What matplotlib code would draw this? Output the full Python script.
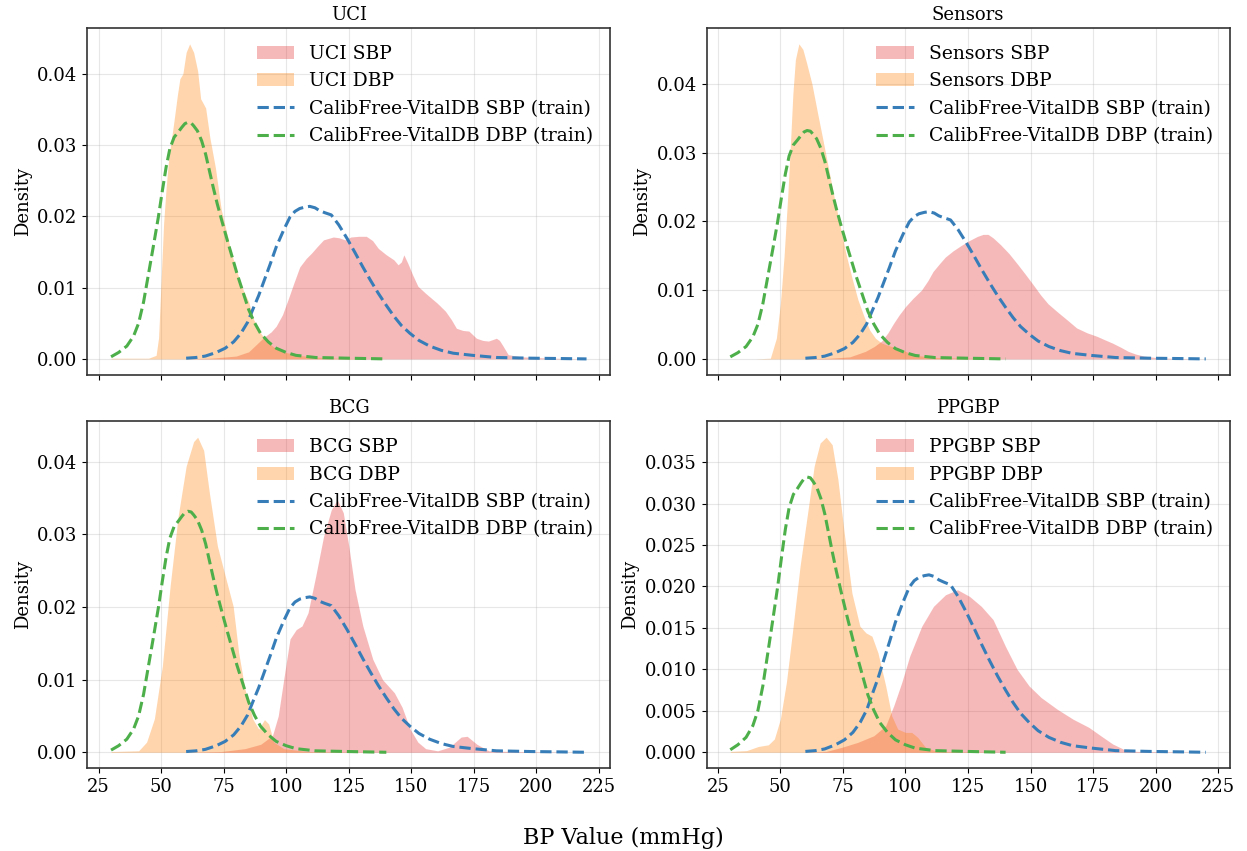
import matplotlib
matplotlib.use("Agg")
import matplotlib.pyplot as plt

plt.rcParams['font.family'] = ['DejaVu Serif']

# ---------------- shared reference curves (CalibFree-VitalDB train) -------------
vital_sbp_x = [60, 64, 67.7, 72, 75.6, 79, 81.9, 84.5, 86.6, 89, 91.3, 93.7, 96, 99, 101.5, 103.5, 105.4, 107.5, 109.4,
               111.5, 113.3, 115.5, 118, 121, 124.3, 127.5, 130.6, 133.7, 136.8, 140, 143, 146, 149.4, 153, 157.3,
               162, 166.7, 174.5, 184, 198, 210, 220]
vital_sbp_y = [0.0001, 0.0002, 0.0004, 0.0009, 0.0015, 0.0024, 0.0036, 0.0051, 0.0069, 0.0089, 0.0111, 0.0134, 0.0157,
               0.0181, 0.0199, 0.0207, 0.0211, 0.0213, 0.0214, 0.0212, 0.0208, 0.0205, 0.0202, 0.0188, 0.0169, 0.0149,
               0.0129, 0.0110, 0.0092, 0.0075, 0.0060, 0.0047, 0.0036, 0.0026, 0.0018, 0.0012, 0.0008, 0.0005, 0.0002,
               0.0001, 0.00005, 0.0]
vital_dbp_x = [30, 33, 36.3, 39, 41, 43, 45, 47, 48.9, 50.5, 52, 53.5, 55.2, 56.8, 58.3, 59.5, 60.7, 62, 63, 64.5, 66.2,
               67.8, 69.3, 70.8, 72.4, 74.4, 76.4, 78.4, 80.3, 82.7, 85, 87.3, 89.7, 92.8, 96, 100, 103.9, 111.7, 125, 140]
vital_dbp_y = [0.0003, 0.0009, 0.0018, 0.0032, 0.0050, 0.0080, 0.0120, 0.0160, 0.0199, 0.0236, 0.0269, 0.0295, 0.0311,
               0.0318, 0.0325, 0.0330, 0.0332, 0.0331, 0.0327, 0.0320, 0.0306, 0.0287, 0.0264, 0.0241, 0.0218, 0.0192,
               0.0167, 0.0143, 0.0120, 0.0094, 0.0069, 0.0051, 0.0036, 0.0024, 0.0015, 0.0009, 0.0005, 0.0002, 0.0001,
               0.0]

# ---------------- datasets ----------------
datasets = ["UCI", "Sensors", "BCG", "PPGBP"]

uci_sbp_x = [60, 70, 80, 85, 88, 91, 94, 96, 98.5, 100.7, 103, 105.4, 108, 110, 112.5, 114.9, 118.8, 121, 123.5, 125.8,
             129, 132, 134.5, 136.8, 140, 143, 144.7, 146, 147, 148.6, 150.5, 152.6, 155.7, 160.4, 163.6, 166, 168,
             170.5, 173, 176, 178.5, 180.8, 182.4, 184, 185.2, 186.3, 188.7, 193.4, 206, 220]
uci_sbp_y = [0.0, 0.0001, 0.0004, 0.0010, 0.0020, 0.0030, 0.0038, 0.0046, 0.0062, 0.0083, 0.0106, 0.0129, 0.0141,
             0.0148, 0.0158, 0.0167, 0.0171, 0.0170, 0.0167, 0.0171, 0.0172, 0.0172, 0.0166, 0.0155, 0.0146, 0.0139,
             0.0132, 0.0136, 0.0146, 0.0134, 0.0118, 0.0102, 0.0092, 0.0078, 0.0067, 0.0055, 0.0043, 0.0040, 0.0039,
             0.0029, 0.0026, 0.0025, 0.0027, 0.0029, 0.0026, 0.0020, 0.0006, 0.0003, 0.0001, 0.0]
uci_dbp_x = [30, 45, 48, 49, 50, 51, 52, 53, 55, 56.5, 57.5, 58.7, 60, 61.4, 63, 64.6, 65.8, 67.8, 69.5, 71.7, 74, 76,
             78, 80, 83, 85, 87, 90, 93, 96, 100, 105, 110, 120, 140]
uci_dbp_y = [0.0001, 0.0001, 0.0005, 0.0030, 0.0110, 0.0190, 0.0240, 0.0280, 0.0330, 0.0370, 0.0393, 0.0400, 0.0430,
             0.0442, 0.0430, 0.0404, 0.0365, 0.0352, 0.0310, 0.0268, 0.0210, 0.0180, 0.0150, 0.0125, 0.0095, 0.0080,
             0.0055, 0.0035, 0.0022, 0.0014, 0.0009, 0.0005, 0.0003, 0.0001, 0.0]

sensors_sbp_x = [60, 70, 77.8, 84, 87.5, 90.5, 93, 95.3, 97.5, 100, 103, 106.4, 109, 111, 113.5, 115.9, 119, 122.3,
                 125.5, 128.7, 131, 133, 135, 138, 141.4, 144.5, 147.7, 151, 154, 157, 160.5, 164.5, 168.4, 172.5,
                 176.4, 179.5, 182.7, 186, 189, 192, 195.4, 200, 205, 220]
sensors_sbp_y = [0.0, 0.0001, 0.0003, 0.0011, 0.0018, 0.0026, 0.0038, 0.0052, 0.0064, 0.0076, 0.0088, 0.0100, 0.0114,
                 0.0127, 0.0138, 0.0148, 0.0157, 0.0165, 0.0172, 0.0178, 0.0181, 0.0181, 0.0176, 0.0166, 0.0153,
                 0.0139, 0.0124, 0.0108, 0.0093, 0.0080, 0.0069, 0.0057, 0.0045, 0.0038, 0.0033, 0.0028, 0.0023,
                 0.0017, 0.0011, 0.0007, 0.0004, 0.0002, 0.0001, 0.0]
sensors_dbp_x = [30, 40, 46, 48.4, 50, 51.5, 53, 54, 55, 56, 57.4, 59, 60.5, 62.6, 65, 67.2, 69.4, 71.5, 73.5,
                 76.2, 78.6, 81, 83.4, 85.7, 88, 90.5, 93.5, 96.9, 100, 103, 107, 112.8, 125, 140]
sensors_dbp_y = [0.0, 0.0, 0.0001, 0.0030, 0.0080, 0.0150, 0.0240, 0.0310, 0.0385, 0.0435, 0.0458, 0.0450, 0.0430,
                 0.0400, 0.0355, 0.0315, 0.0274, 0.0235, 0.0200, 0.0153, 0.0118, 0.0086, 0.0062, 0.0042,
                 0.0030, 0.0023, 0.0019, 0.0016, 0.0011, 0.0006, 0.0004, 0.0002, 0.0001, 0.0]

bcg_sbp_x = [60, 74, 83.5, 89.8, 94.5, 96.8, 99.2, 101.5, 104, 106.3, 108.7, 111.8, 114.9, 118, 120.4, 122.8, 125,
             127.5, 130.6, 134.6, 138.5, 143.2, 146.3, 149.5, 152.6, 155.7, 160.5, 165.2, 169.9, 172.3, 176.2, 181,
             190, 220]
bcg_sbp_y = [0.0, 0.0001, 0.0005, 0.0011, 0.0023, 0.0050, 0.0105, 0.0156, 0.0169, 0.0174, 0.0192, 0.0243, 0.0297,
             0.0334, 0.0348, 0.0330, 0.0284, 0.0224, 0.0174, 0.0128, 0.0100, 0.0082, 0.0062, 0.0032, 0.0014, 0.0005,
             0.0002, 0.0007, 0.0021, 0.0022, 0.0011, 0.0002, 0.0001, 0.0]
bcg_dbp_x = [30, 41, 44.2, 47.3, 50.5, 53.6, 56.8, 60, 63, 64.6, 67, 69.3, 72.5, 75.6, 78.8, 81, 83.5, 86.6, 89, 91.3,
             93, 95, 99, 108.6, 140]
bcg_dbp_y = [0.0001, 0.0002, 0.0014, 0.0046, 0.0119, 0.0229, 0.0325, 0.0394, 0.0428, 0.0434, 0.0416, 0.0357, 0.0284,
             0.0243, 0.0201, 0.0137, 0.0087, 0.0046, 0.0032, 0.0045, 0.0039, 0.0014, 0.0005, 0.0001, 0.0]

ppgbp_sbp_x = [60, 68.3, 74.6, 81, 87.4, 92.1, 95.3, 98.5, 101.7, 106.5, 111.2, 116, 120.8, 125.6, 130.3, 135, 139.9,
               144.6, 149.4, 154.2, 160.6, 166.9, 173.3, 178, 182.8, 187.6, 192.4, 220]
ppgbp_sbp_y = [0.0, 0.0001, 0.0006, 0.0012, 0.0020, 0.0032, 0.0056, 0.0084, 0.0116, 0.0152, 0.0176, 0.0190, 0.0196,
               0.0188, 0.0176, 0.0160, 0.0128, 0.0100, 0.0080, 0.0066, 0.0052, 0.0040, 0.0030, 0.0020, 0.0010,
               0.0003, 0.0001, 0.0]
ppgbp_dbp_x = [30, 36.5, 41.2, 45.2, 47.6, 50, 52.4, 54.8, 57.9, 61.1, 63.5, 65.9, 68.3, 70.7, 73, 75.5, 78.6, 81.8,
               84.2, 86.6, 89, 92.1, 94.5, 96.9, 100, 102.5, 104.9, 108, 112.8, 140]
ppgbp_dbp_y = [0.0001, 0.0002, 0.0007, 0.0009, 0.0016, 0.0040, 0.0084, 0.0144, 0.0225, 0.0293, 0.0345, 0.0373,
               0.0380, 0.0371, 0.0329, 0.0265, 0.0192, 0.0152, 0.0144, 0.0140, 0.0120, 0.0080, 0.0044, 0.0028,
               0.0024, 0.0024, 0.0018, 0.0006, 0.0001, 0.0]

data = {
    "UCI": (uci_sbp_x, uci_sbp_y, uci_dbp_x, uci_dbp_y),
    "Sensors": (sensors_sbp_x, sensors_sbp_y, sensors_dbp_x, sensors_dbp_y),
    "BCG": (bcg_sbp_x, bcg_sbp_y, bcg_dbp_x, bcg_dbp_y),
    "PPGBP": (ppgbp_sbp_x, ppgbp_sbp_y, ppgbp_dbp_x, ppgbp_dbp_y),
}
xticks = [25, 50, 75, 100, 125, 150, 175, 200, 225]

sbp_color = '#e41a1c'
dbp_color = '#ff7f00'
vsbp_color = '#377eb8'
vdbp_color = '#4daf4a'

fig, axes = plt.subplots(2, 2, figsize=(12.47, 8.51), dpi=100, sharex=True)
fig.subplots_adjust(left=0.07, right=0.986, top=0.967, bottom=0.0975, wspace=0.184, hspace=0.135)

for ax, name in zip(axes.flat, datasets):
    sx, sy, dx, dy = data[name]
    ax.fill_between(sx, sy, 0, color=sbp_color, alpha=0.3, linewidth=0, label=f"{name} SBP")
    ax.fill_between(dx, dy, 0, color=dbp_color, alpha=0.32, linewidth=0, label=f"{name} DBP")
    ax.plot(vital_sbp_x, vital_sbp_y, '--', color=vsbp_color, lw=2.2, label="CalibFree-VitalDB SBP (train)")
    ax.plot(vital_dbp_x, vital_dbp_y, '--', color=vdbp_color, lw=2.2, label="CalibFree-VitalDB DBP (train)")
    ax.set_title(name, fontsize=13)
    ax.set_ylabel("Density", fontsize=13)
    ax.grid(True, color='#b0b0b0', alpha=0.3, linewidth=0.8)
    ax.set_axisbelow(True)
    ax.tick_params(labelsize=13)
    for sp in ax.spines.values():
        sp.set_color('#333333')
        sp.set_linewidth(1.2)
    ax.legend(loc='upper right', frameon=False, fontsize=13.5)
    ax.margins(x=0.05, y=0.05)

axes[0, 0].set_xlim(20.5, 229.5)
for ax in axes[1]:
    ax.set_xticks(xticks)

fig.text(0.5, 0.015, "BP Value (mmHg)", ha='center', va='center', fontsize=16)

fig.savefig("out.png", dpi=100)
